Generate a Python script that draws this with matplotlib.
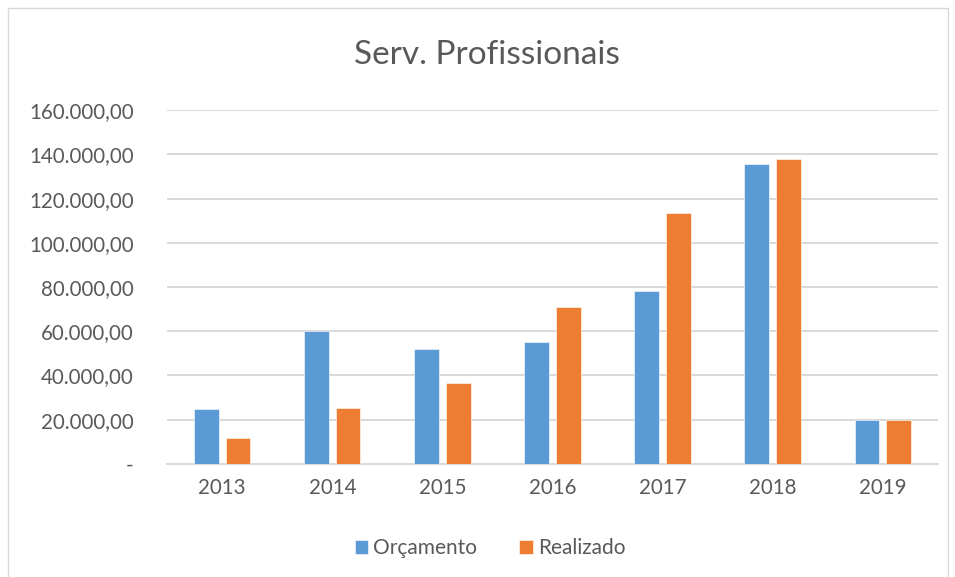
import numpy as np
import matplotlib.pyplot as plt
from matplotlib.patches import Rectangle

# Data
anos = ['2013', '2014', '2015', '2016', '2017', '2018', '2019']
orcamento = [25000, 60000, 52000, 55000, 78000, 135500, 20000]
realizado = [11500, 25300, 36400, 70900, 113500, 138000, 20000]
yticks = [0, 20000, 40000, 60000, 80000, 100000, 120000, 140000, 160000]

plt.rcParams['font.family'] = ['Lato', 'DejaVu Sans']

azul = '#5B9BD5'
laranja = '#ED7D31'
cinza = '#595959'

fig = plt.figure(figsize=(9.55, 5.77), dpi=100)
ax = fig.add_axes([0.175, 0.196, 0.807, 0.613])

# Chart area border
fig.patches.append(Rectangle((8/955, -0.01), 940/955, 1 - 8/577 + 0.01,
                             transform=fig.transFigure, fill=False,
                             edgecolor='#d9d9d9', linewidth=1))

x = np.arange(len(anos))
w = 0.224
off = 0.144
ax.bar(x - off, orcamento, w, color=azul, edgecolor='white', linewidth=0.4,
       label='Orçamento', zorder=3)
ax.bar(x + off, realizado, w, color=laranja, edgecolor='white', linewidth=0.4,
       label='Realizado', zorder=3)

ax.set_xlim(-0.5, len(anos) - 0.5)
ax.set_ylim(0, 160000)
ax.set_xticks(x)
ax.set_xticklabels(anos)

def fmt(v):
    if v == 0:
        return '-'
    return '{:,.2f}'.format(v).replace(',', 'X').replace('.', ',').replace('X', '.')

ax.set_yticks(yticks)
ax.set_yticklabels([fmt(v) for v in yticks])
ax.yaxis.grid(True, color='#d9d9d9', linewidth=1.4, zorder=0)
ax.tick_params(axis='both', length=0, colors=cinza, labelsize=14.8)
ax.tick_params(axis='y', pad=24)
ax.tick_params(axis='x', pad=10)

for s in ['top', 'right', 'left']:
    ax.spines[s].set_visible(False)
ax.spines['bottom'].set_color('#d9d9d9')
ax.spines['bottom'].set_linewidth(1.4)

fig.text(0.51, 0.905, 'Serv. Profissionais', ha='center', va='center',
         fontsize=24, color=cinza)

leg = fig.legend(loc='center', bbox_to_anchor=(0.513, 0.05), ncol=2,
                 frameon=False, fontsize=15, handlelength=0.65,
                 handleheight=0.65, handletextpad=0.25, columnspacing=2.0)
for t in leg.get_texts():
    t.set_color(cinza)

fig.savefig('out.png', dpi=100)
